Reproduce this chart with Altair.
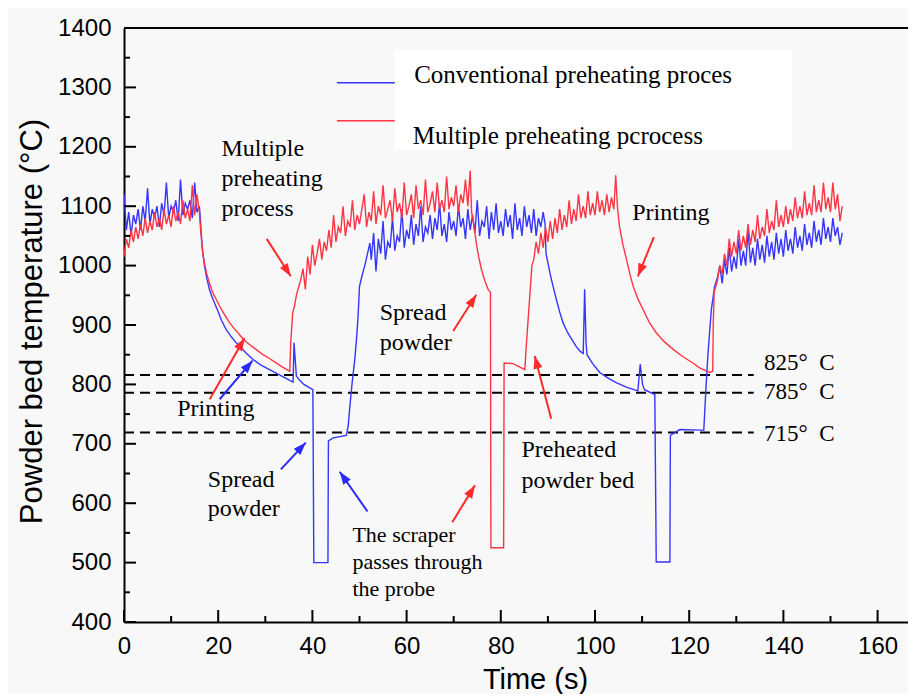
import math
import altair as alt
import pandas as pd

# ---------------- data ----------------
W, H = 784, 594
XMAX = W / 4.71
YMIN, YMAX = 400, 1400

# Conventional preheating (blue)
B1 = [1120, 1060, 1090, 1050, 1085, 1070, 1095, 1060, 1100, 1075, 1130, 1070, 1095, 1080, 1100, 1065,
      1105, 1085, 1140, 1080, 1100, 1090, 1110, 1075, 1145, 1085, 1105, 1095, 1110, 1080, 1140, 1090, 1100]
B_DESC1 = [(16.2, 1080), (16.6, 1030), (17.1, 999), (17.6, 978), (18.2, 958), (18.9, 943), (19.8, 926),
           (20.7, 908), (21.7, 892), (22.7, 881), (23.6, 872), (24.6, 864), (26.0, 852), (27.4, 842),
           (29.0, 833), (30.9, 825), (32.5, 818), (34.2, 811), (35.9, 804), (36.1, 870), (36.6, 814),
           (37.4, 806), (38.2, 800), (40.1, 791), (40.3, 500), (43.3, 500), (43.4, 705), (44.4, 710),
           (47.2, 714), (47.6, 730), (47.9, 758), (48.4, 800), (49.0, 842), (49.4, 880), (49.7, 915),
           (50.0, 965), (50.6, 985), (51.1, 999), (51.7, 1020), (52.2, 1038)]
B2 = [1010, 1055, 990, 1045, 1020, 1075, 1010, 1040, 1030, 1080, 1025, 1050, 1040, 1095, 1030, 1060,
      1045, 1085, 1035, 1070, 1050, 1100, 1040, 1065, 1055, 1085, 1045, 1080, 1060, 1105, 1050, 1070,
      1040, 1090, 1060, 1075, 1050, 1100, 1065, 1080, 1045, 1095, 1060, 1085, 1055, 1110, 1050, 1075,
      1065, 1100, 1045, 1090, 1060, 1105, 1055, 1075, 1050, 1095, 1065, 1085, 1045, 1105, 1060, 1080,
      1050, 1100, 1065, 1085, 1055, 1095, 1050, 1080, 1065, 1090]
B_DESC2 = [(89.4, 1070), (89.6, 1020), (90.0, 1005), (90.5, 985), (91.1, 965), (91.8, 943), (92.5, 922),
           (93.2, 904), (94.2, 887), (95.3, 873), (96.0, 864), (96.8, 856), (97.5, 852), (97.8, 960),
           (98.1, 870), (98.3, 850), (99.5, 835), (101.0, 820), (102.7, 811), (104.5, 803),
           (106.8, 795), (109.1, 789), (109.6, 834), (110.1, 800), (110.5, 791), (112.7, 783),
           (113.0, 501), (115.9, 501), (116.0, 714), (118.0, 724), (122.2, 723), (123.1, 723),
           (123.6, 800), (124.0, 853), (124.7, 926), (125.4, 965)]
B3 = [980, 1000, 970, 1010, 985, 1030, 990, 1015, 995, 1045, 1000, 1025, 1000, 1060, 1005, 1030,
      1000, 1045, 1010, 1035, 1005, 1050, 1015, 1040, 1010, 1055, 1020, 1045, 1015, 1060, 1025, 1045,
      1020, 1065, 1030, 1050, 1025, 1070, 1035, 1055, 1030, 1075, 1040, 1060, 1035, 1080, 1045, 1065,
      1040, 1080, 1050, 1065, 1035, 1055]

# Multiple preheating (red)
R1 = [1015, 1045, 1030, 1060, 1040, 1065, 1045, 1070, 1050, 1080, 1055, 1075, 1060, 1090, 1065, 1080,
      1060, 1095, 1070, 1085, 1065, 1100, 1075, 1090, 1070, 1110, 1080, 1095, 1075, 1135, 1085, 1120, 1090]
R_DESC1 = [(16.1, 1077), (16.5, 1040), (16.8, 1016), (17.2, 1000), (17.5, 988), (18.0, 974), (18.5, 962),
           (19.0, 952), (19.6, 943), (20.3, 932), (21.0, 922), (21.7, 913), (22.4, 904), (23.5, 893),
           (24.5, 884), (25.3, 876), (26.5, 868), (27.5, 862), (28.5, 856), (29.5, 850), (30.8, 844),
           (32.0, 838), (33.5, 830), (35.2, 822), (35.4, 870), (35.8, 920), (36.2, 932), (36.6, 950),
           (37.0, 962)]
R2 = [975, 995, 960, 1015, 985, 1035, 1000, 1020, 1045, 1010, 1040, 1025, 1060, 1030, 1085, 1040,
      1065, 1055, 1100, 1050, 1075, 1065, 1110, 1060, 1085, 1070, 1095, 1120, 1065, 1090, 1075, 1125,
      1070, 1100, 1085, 1135, 1080, 1095, 1110, 1075, 1130, 1090, 1105, 1080, 1140, 1085, 1100, 1120,
      1080, 1135, 1095, 1110, 1085, 1145, 1090, 1105, 1125, 1090, 1140, 1095, 1110, 1090, 1150, 1095,
      1115, 1100, 1135, 1090, 1120, 1105, 1145, 1100, 1160]
R_DESC2 = [(73.8, 1090), (74.1, 1077), (74.8, 1038), (75.3, 1015), (75.9, 993), (76.6, 975), (77.3, 960),
           (77.8, 955), (77.9, 525), (80.6, 525), (80.7, 836), (82.6, 835), (85.1, 825), (85.4, 864),
           (86.1, 943), (86.6, 1000)]
R3 = [1010, 1040, 1020, 1055, 1030, 1065, 1040, 1075, 1045, 1080, 1055, 1095, 1060, 1085, 1065, 1110,
      1070, 1095, 1075, 1120, 1080, 1100, 1080, 1125, 1085, 1105, 1085, 1125, 1090, 1110, 1085, 1120,
      1090, 1115, 1095]
R_DESC3 = [(104.4, 1152), (104.8, 1095), (105.2, 1066), (105.9, 1036), (106.7, 1010), (107.4, 986),
           (108.1, 965), (109.1, 944), (110.2, 926), (111.5, 905), (113.0, 887), (114.7, 872),
           (116.6, 859), (118.6, 847), (120.8, 836), (122.2, 828), (124.4, 820), (125.0, 822),
           (125.1, 900), (125.3, 955)]
R4 = [975, 1000, 985, 1020, 1000, 1045, 1015, 1040, 1020, 1060, 1025, 1050, 1030, 1070, 1035, 1060,
      1040, 1085, 1045, 1065, 1050, 1095, 1055, 1075, 1060, 1110, 1065, 1085, 1065, 1100, 1070, 1095,
      1075, 1115, 1080, 1100, 1080, 1125, 1085, 1105, 1085, 1135, 1090, 1110, 1090, 1140, 1095, 1115,
      1090, 1140, 1095, 1120, 1075, 1100]

SERIES = ["Conventional preheating proces", "Multiple preheating pcrocess"]
COLORS = ["#3535ff", "#ff3545"]

DASH_LEVELS = [816, 786, 719]
DASH_END = 133.7

Y_MAJOR = list(range(400, 1401, 100))
Y_MINOR = list(range(450, 1400, 100))
X_MAJOR = list(range(0, 161, 20))
X_MINOR = list(range(10, 166, 20))

# annotations: text, t, v (baseline), font size
ANNOT = [
    ("Multiple", 20.7, 1185, 24), ("preheating", 20.7, 1134, 24), ("process", 20.7, 1083, 24),
    ("Printing", 107.9, 1076, 24),
    ("Printing", 11.3, 746, 24),
    ("Spread", 17.8, 628, 24), ("powder", 17.8, 578, 24),
    ("The scraper", 48.5, 535, 22), ("passes through", 48.5, 489, 22), ("the probe", 48.5, 444, 22),
    ("Spread", 54.3, 908, 24), ("powder", 54.3, 858, 24),
    ("Preheated", 84.4, 677, 24), ("powder bed", 84.4, 626, 24),
    ("825°\u2002C", 135.9, 825, 23), ("785°\u2002C", 135.9, 776, 23), ("715°\u2002C", 135.9, 704, 23),
    ("Conventional preheating proces", 61.6, 1308, 25),
    ("Multiple preheating pcrocess", 61.3, 1205, 25),
]

# arrows: tail t, tail v, head t, head v, colour
ARROWS = [
    (30.3, 1045, 35.4, 982, "#ff2a2a"),
    (18.2, 775, 25.6, 878, "#ff2a2a"),
    (20.3, 775, 27.3, 840, "#2a2aff"),
    (33.3, 657, 38.6, 702, "#2a2aff"),
    (51.7, 586, 45.8, 653, "#2a2aff"),
    (69.9, 890, 74.8, 951, "#ff2a2a"),
    (69.7, 568, 74.5, 630, "#ff2a2a"),
    (90.7, 742, 87.2, 848, "#ff2a2a"),
    (112.5, 1048, 109.1, 982, "#ff2a2a"),
]

LEGEND_BOX = (57.5, 141.9, 1195, 1363)
LEGEND_LINES = [(45.2, 57.5, 1308, SERIES[0]), (45.2, 57.5, 1244, SERIES[1])]


# ---------------- build tables ----------------
def seg(t0, t1, vals):
    n = len(vals)
    return [(t0 + (t1 - t0) * i / (n - 1), v) for i, v in enumerate(vals)]


blue = seg(0, 16, B1) + B_DESC1 + seg(52.5, 89.0, B2) + B_DESC2 + seg(126, 152.5, B3)
red = (seg(0, 16, R1) + R_DESC1 + seg(37.5, 73.5, R2) + R_DESC2 + seg(87, 104, R3)
       + R_DESC3 + seg(126, 152.5, R4))

rows = []
for name, pts in zip(SERIES, [blue, red]):
    for i, (t, v) in enumerate(pts):
        rows.append({"series": name, "t": t, "v": v, "i": i})
curves = pd.DataFrame(rows)

sx = W / XMAX
sy = H / (YMAX - YMIN)
arr_rows = []
for t0, v0, t1, v1, c in ARROWS:
    dx = (t1 - t0) * sx
    dy = -(v1 - v0) * sy
    ang = math.degrees(math.atan2(dx, -dy)) % 360
    arr_rows.append({"t": t0, "v": v0, "t2": t1, "v2": v1, "col": c, "ang": ang})
arrows = pd.DataFrame(arr_rows)

xs = alt.Scale(domain=[0, XMAX], nice=False, zero=False)
ys = alt.Scale(domain=[YMIN, YMAX], nice=False, zero=False)

xaxis = alt.Axis(values=X_MAJOR, format="d", ticks=False, grid=False, domainColor="black",
                 domainWidth=2, labelFont="Liberation Sans", labelFontSize=24, labelColor="black",
                 labelPadding=12, labelFlush=False, labelOverlap=False, title="Time (s)",
                 titleFont="Liberation Sans", titleFontSize=29, titleFontWeight="normal",
                 titleColor="black", titleX=411, titleY=66, titleBaseline="alphabetic",
                 titleAlign="center")
yaxis = alt.Axis(values=Y_MAJOR, format="d", ticks=False, grid=False, domainColor="black",
                 domainWidth=2, labelFont="Liberation Sans", labelFontSize=24, labelColor="black",
                 labelPadding=13, labelFlush=False, labelOverlap=False,
                 title="Powder bed temperature (°C)", titleFont="Liberation Sans", titleFontSize=31,
                 titleFontWeight="normal", titleColor="black", titleAngle=270, titleX=-83,
                 titleY=293, titleBaseline="alphabetic", titleAlign="center")

box = alt.Chart(pd.DataFrame([{"t": LEGEND_BOX[0], "t2": LEGEND_BOX[1],
                               "v": LEGEND_BOX[2], "v2": LEGEND_BOX[3]}])).mark_rect(
    color="white").encode(x=alt.X("t:Q", scale=xs, axis=xaxis), x2="t2:Q",
                          y=alt.Y("v:Q", scale=ys, axis=yaxis), y2="v2:Q")

dash = alt.Chart(pd.DataFrame({"v": DASH_LEVELS, "t": 0, "t2": DASH_END})).mark_rule(
    color="black", strokeWidth=2, strokeDash=[10, 6]).encode(
    x=alt.X("t:Q", scale=xs), x2="t2:Q", y=alt.Y("v:Q", scale=ys))

color_scale = alt.Scale(domain=SERIES, range=COLORS)
lines = alt.Chart(curves).mark_line(strokeWidth=1.4, clip=True).encode(
    x=alt.X("t:Q", scale=xs), y=alt.Y("v:Q", scale=ys),
    color=alt.Color("series:N", scale=color_scale, legend=None),
    order="i:Q")

leg_lines = alt.Chart(pd.DataFrame([{"t": a, "t2": b, "v": v, "series": s}
                                    for a, b, v, s in LEGEND_LINES])).mark_rule(strokeWidth=1.5).encode(
    x=alt.X("t:Q", scale=xs), x2="t2:Q", y=alt.Y("v:Q", scale=ys),
    color=alt.Color("series:N", scale=color_scale, legend=None))

ytm = alt.Chart(pd.DataFrame({"v": Y_MAJOR})).mark_rule(color="black", strokeWidth=2).encode(
    y=alt.Y("v:Q", scale=ys), x=alt.value(0), x2=alt.value(12))
ytn = alt.Chart(pd.DataFrame({"v": Y_MINOR})).mark_rule(color="black", strokeWidth=2).encode(
    y=alt.Y("v:Q", scale=ys), x=alt.value(0), x2=alt.value(6))
xtm = alt.Chart(pd.DataFrame({"t": X_MAJOR})).mark_rule(color="black", strokeWidth=2).encode(
    x=alt.X("t:Q", scale=xs), y=alt.value(H), y2=alt.value(H - 12))
xtn = alt.Chart(pd.DataFrame({"t": X_MINOR})).mark_rule(color="black", strokeWidth=2).encode(
    x=alt.X("t:Q", scale=xs), y=alt.value(H), y2=alt.value(H - 6))

top = alt.Chart(pd.DataFrame({"t": [0]})).mark_rule(color="black", strokeWidth=2).encode(
    x=alt.value(0), x2=alt.value(W), y=alt.value(0))

arrow_lines = alt.Chart(arrows).mark_rule(strokeWidth=2).encode(
    x=alt.X("t:Q", scale=xs), x2="t2:Q", y=alt.Y("v:Q", scale=ys), y2="v2:Q",
    color=alt.Color("col:N", scale=None))
arrow_heads = alt.Chart(arrows).mark_point(
    shape="M0,0 L-0.36,1 L0.36,1 Z", filled=True, size=650, opacity=1, strokeWidth=0).encode(
    x=alt.X("t2:Q", scale=xs), y=alt.Y("v2:Q", scale=ys),
    angle=alt.Angle("ang:Q", scale=None), color=alt.Color("col:N", scale=None))

texts = alt.Chart(pd.DataFrame(ANNOT, columns=["label", "t", "v", "fs"])).mark_text(
    align="left", baseline="alphabetic", font="Liberation Serif", color="black").encode(
    x=alt.X("t:Q", scale=xs), y=alt.Y("v:Q", scale=ys), text="label:N",
    size=alt.Size("fs:Q", scale=None))

chart = alt.layer(box, dash, lines, leg_lines, ytm, ytn, xtm, xtn, top, arrow_lines, arrow_heads,
                  texts).properties(
    width=W, height=H,
    autosize=alt.AutoSizeParams(type="none"),
    padding={"left": 116, "top": 20, "right": 0, "bottom": 72},
    background="#f8f8f8",
).configure_view(stroke=None)

chart.save("out.html", embed_options={"renderer": "svg", "actions": False})
